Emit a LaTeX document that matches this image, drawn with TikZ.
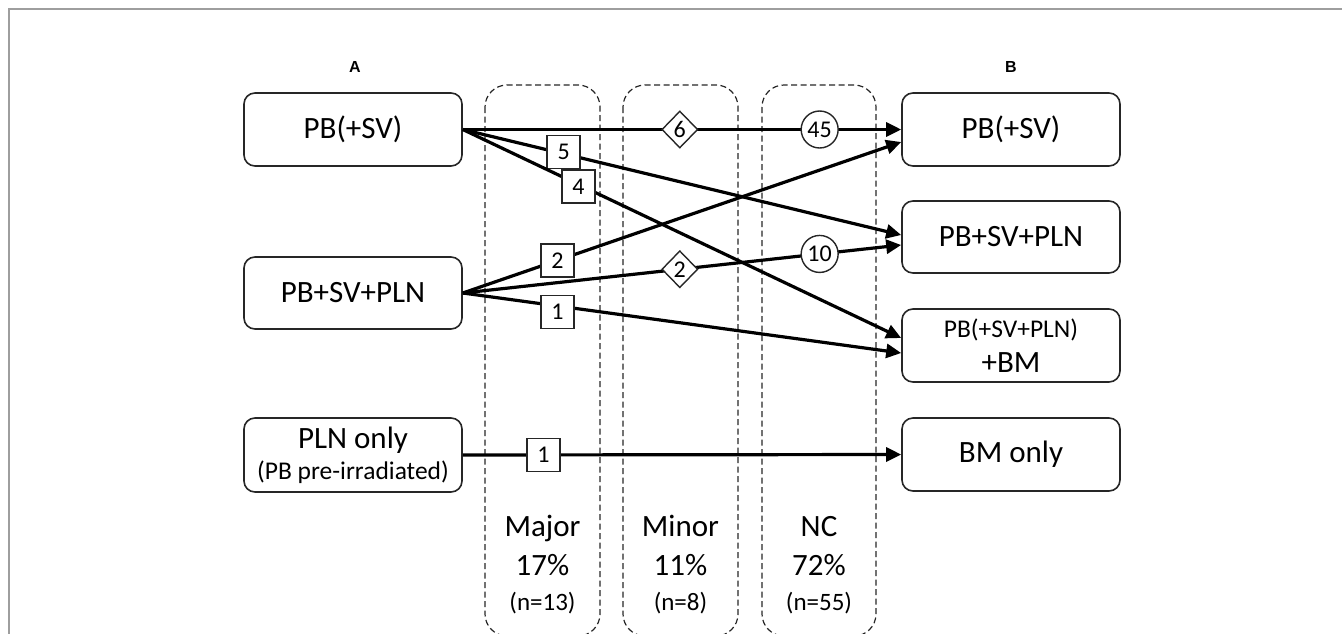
\documentclass[tikz,border=0pt]{standalone}
\usepackage{fontspec}
\setmainfont{Carlito}
\newfontfamily\headfont{Liberation Sans}
\usetikzlibrary{arrows.meta,shapes.geometric}

\begin{document}
\begin{tikzpicture}[x=1pt,y=-1pt,
  frame/.style={draw=black!38, line width=1.4pt},
  box/.style={draw=black!85, line width=1.6pt, rounded corners=11pt,
    minimum width=218pt, inner sep=0pt, align=center,
    font=\fontsize{31}{35}\selectfont},
  hdr/.style={font=\headfont\bfseries\fontsize{16}{19}\selectfont},
  column/.style={draw=black!85, line width=1.2pt, dash pattern=on 6pt off 3.5pt,
    rounded corners=22pt},
  coltext/.style={anchor=base, font=\fontsize{31}{35}\selectfont},
  colnum/.style={anchor=base, font=\fontsize{25}{30}\selectfont},
  flow/.style={draw=black, line width=3.2pt,
    -{Triangle[length=15pt,width=14pt]}},
  sq/.style={draw=black!85, fill=white, line width=1.4pt, minimum size=33pt,
    inner sep=0pt, font=\fontsize{24}{26}\selectfont},
  dia/.style={diamond, draw=black!85, fill=white, line width=1.4pt,
    minimum width=36pt, minimum height=37pt, inner sep=0pt,
    font=\fontsize{24}{26}\selectfont},
  circ/.style={circle, draw=black!85, fill=white, line width=1.4pt,
    minimum size=37pt, inner sep=0pt, font=\fontsize{24}{26}\selectfont},
]
\useasboundingbox (0,0) rectangle (1342,633);

% outer frame (top and left edges)
\draw[frame] (9,634) -- (9,9) -- (1343,9);

% dashed category columns
\draw[column] (485,85) rectangle (600,636);
\draw[column] (623,85) rectangle (738,636);
\draw[column] (762,85) rectangle (876,636);

\node[coltext] (majA) at (542.5,536) {Major};
\node[coltext] (majB) at (542.5,575) {17\%};
\node[colnum]  (majC) at (542.5,610) {(n=13)};
\node[coltext] (minA) at (680.5,536) {Minor};
\node[coltext] (minB) at (680.5,575) {11\%};
\node[colnum]  (minC) at (680.5,610) {(n=8)};
\node[coltext] (ncA) at (819,536) {NC};
\node[coltext] (ncB) at (819,575) {72\%};
\node[colnum]  (ncC) at (819,610) {(n=55)};

% column headers
\node[hdr] (ha) at (355,67) {A};
\node[hdr] (hb) at (1011,67) {B};

% left boxes
\node[box, minimum height=73pt] (l1) at (353,129.5) {PB(+SV)};
\node[box, minimum height=72pt] (l2) at (353,293) {PB+SV+PLN};
\node[box, minimum height=74pt] (l3) at (353,455)
  {PLN only\\[-4pt]{\fontsize{25.5}{31}\selectfont(PB pre-irradiated)}};

% right boxes
\node[box, minimum height=73pt] (r1) at (1011,129.5) {PB(+SV)};
\node[box, minimum height=72pt] (r2) at (1011,237) {PB+SV+PLN};
\node[box, minimum height=73pt] (r3) at (1011,345.5)
  {{\fontsize{25.5}{31}\selectfont PB(+SV+PLN)}\\[0pt]+BM};
\node[box, minimum height=73pt] (r4) at (1011,454.5) {BM only};

% transitions
\draw[flow] (l1.east) -- node[dia,pos=0.495]{6} node[circ,pos=0.814]{45} (r1.west);
\draw[flow] (l1.east) -- node[sq,pos=0.23,yshift=2pt]{5} ([yshift=2pt]r2.west);
\draw[flow] (l1.east) -- node[sq,pos=0.264,yshift=-2pt]{4} ([yshift=7.5pt]r3.west);
\draw[flow] (l2.east) -- node[sq,pos=0.216]{2} ([yshift=-12.5pt]r1.west);
\draw[flow] (l2.east) -- node[dia,pos=0.495]{2} node[circ,pos=0.814]{10} ([yshift=-8pt]r2.west);
\draw[flow] (l2.east) -- node[sq,pos=0.216,yshift=-6pt]{1} ([yshift=-7.5pt]r3.west);
\draw[flow] (l3.east) -- node[sq,pos=0.184]{1} (r4.west);
\end{tikzpicture}
\end{document}
